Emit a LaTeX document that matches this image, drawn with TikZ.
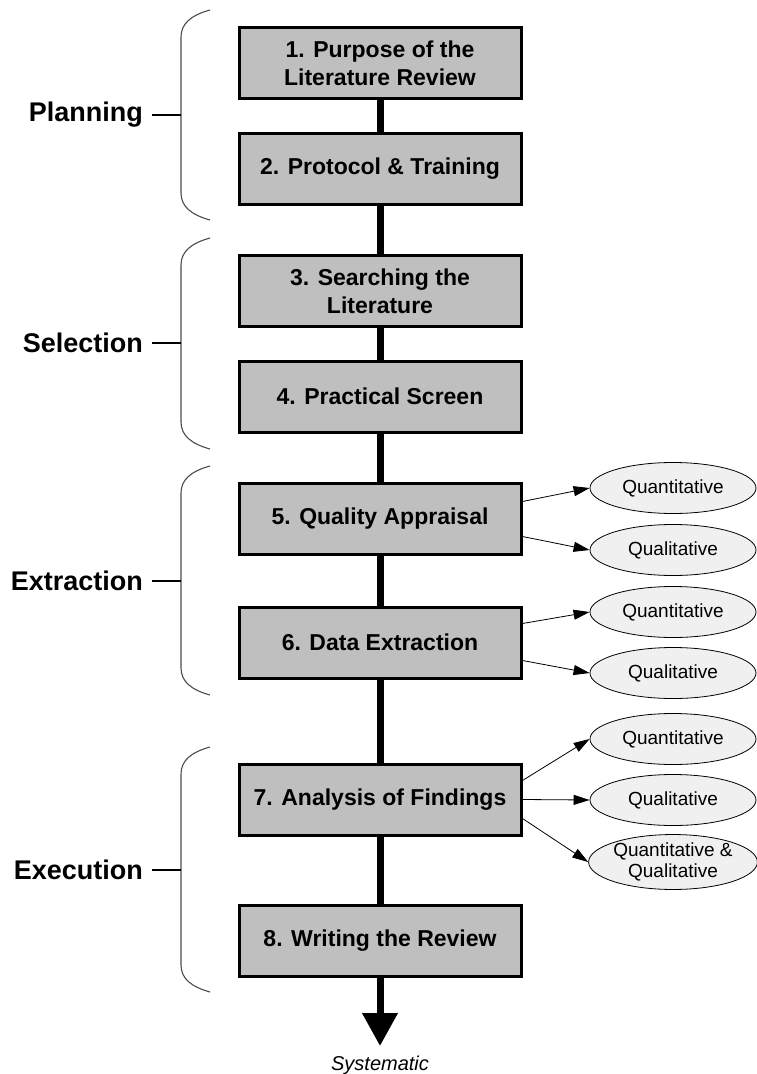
\documentclass[tikz,border=0pt]{standalone}
\usepackage{fontspec}
\setmainfont{Liberation Sans}
\usetikzlibrary{arrows.meta,shapes.geometric,backgrounds}

\tikzset{
  stage/.style={draw=black, line width=3pt, fill=black!25, minimum width=282pt,
    minimum height=71pt, inner sep=0pt, align=center,
    font=\fontsize{23}{28}\selectfont\bfseries},
  phase/.style={anchor=east, inner sep=0pt, font=\fontsize{27}{30}\selectfont\bfseries},
  kind/.style={draw=black, line width=0.8pt, fill=black!6, ellipse,
    minimum width=166pt, minimum height=51pt, inner sep=0pt, align=center,
    font=\fontsize{19}{21.5}\selectfont},
  feed/.style={line width=0.8pt, -{Triangle[length=16pt,width=10pt]}},
  spine/.style={line width=7pt, -{Triangle[length=33pt,width=34pt]}},
  brace/.style={draw=black!70, line width=1.1pt},
  tick/.style={draw=black, line width=1.1pt},
}

% curly bracket spanning a phase, with its pointer coordinate
\newcommand{\phasebrace}[4]{%
  \draw[brace] (210,#1) .. controls (192,#1+5) and (181,#1+13) .. (181,#1+27)
    -- (181,#3-27) .. controls (181,#3-13) and (192,#3-5) .. (210,#3);
  \coordinate (#4) at (181,#2);
}

\begin{document}
\begin{tikzpicture}[x=1pt,y=-1pt]
\useasboundingbox (0,0) rectangle (756,1074);

% process stages
\node[stage] (b1) at (380,63)    {1. Purpose of the\\Literature Review};
\node[stage] (b2) at (380,168.5) {2. Protocol \& Training};
\node[stage] (b3) at (380,291)   {3. Searching the\\Literature};
\node[stage] (b4) at (380,396.5) {4. Practical Screen};
\node[stage] (b5) at (380,518.5) {5. Quality Appraisal};
\node[stage] (b6) at (380,642.5) {6. Data Extraction};
\node[stage] (b7) at (380,799.5) {7. Analysis of Findings};
\node[stage] (b8) at (380,940.5) {8. Writing the Review};

\coordinate (tip) at (380,1046);
\node[font=\fontsize{20}{22}\selectfont\itshape, anchor=north] (sys) at (380,1052) {Systematic};

% main flow line behind the stages
\begin{scope}[on background layer]
  \draw[spine] (b1.center) -- (tip);
\end{scope}

% output kinds
\node[kind] (q5a) at (673,488) {Quantitative};
\node[kind] (q5b) at (673,550) {Qualitative};
\node[kind] (q6a) at (673,612) {Quantitative};
\node[kind] (q6b) at (673,673) {Qualitative};
\node[kind] (q7a) at (673,739) {Quantitative};
\node[kind] (q7b) at (673,800) {Qualitative};
\node[kind] (q7c) at (673,862) {Quantitative \&\\Qualitative};

% y grows downwards, so a positive yshift moves up
\draw[feed] ([yshift=17pt]b5.east)  -- (q5a.west);
\draw[feed] ([yshift=-18pt]b5.east) -- (q5b.west);
\draw[feed] ([yshift=19pt]b6.east)  -- (q6a.west);
\draw[feed] ([yshift=-18pt]b6.east) -- (q6b.west);
\draw[feed] ([yshift=19pt]b7.east)  -- (q7a.west);
\draw[feed] (b7.east) -- (q7b.west);
\draw[feed] ([yshift=-19pt]b7.east) -- (q7c.west);

% phase brackets
\phasebrace{10}{115}{220}{pp}
\phasebrace{238}{343}{449}{ps}
\phasebrace{466}{581}{695}{pe}
\phasebrace{747}{870}{992}{px}

\node[phase] (lp) at (143,115) {Planning};
\node[phase] (ls) at (143,343) {Selection};
\node[phase] (le) at (143,581) {Extraction};
\node[phase] (lx) at (143,870) {Execution};

\draw[tick] ([xshift=9pt]lp.east) -- (pp);
\draw[tick] ([xshift=9pt]ls.east) -- (ps);
\draw[tick] ([xshift=9pt]le.east) -- (pe);
\draw[tick] ([xshift=9pt]lx.east) -- (px);
\end{tikzpicture}
\end{document}
